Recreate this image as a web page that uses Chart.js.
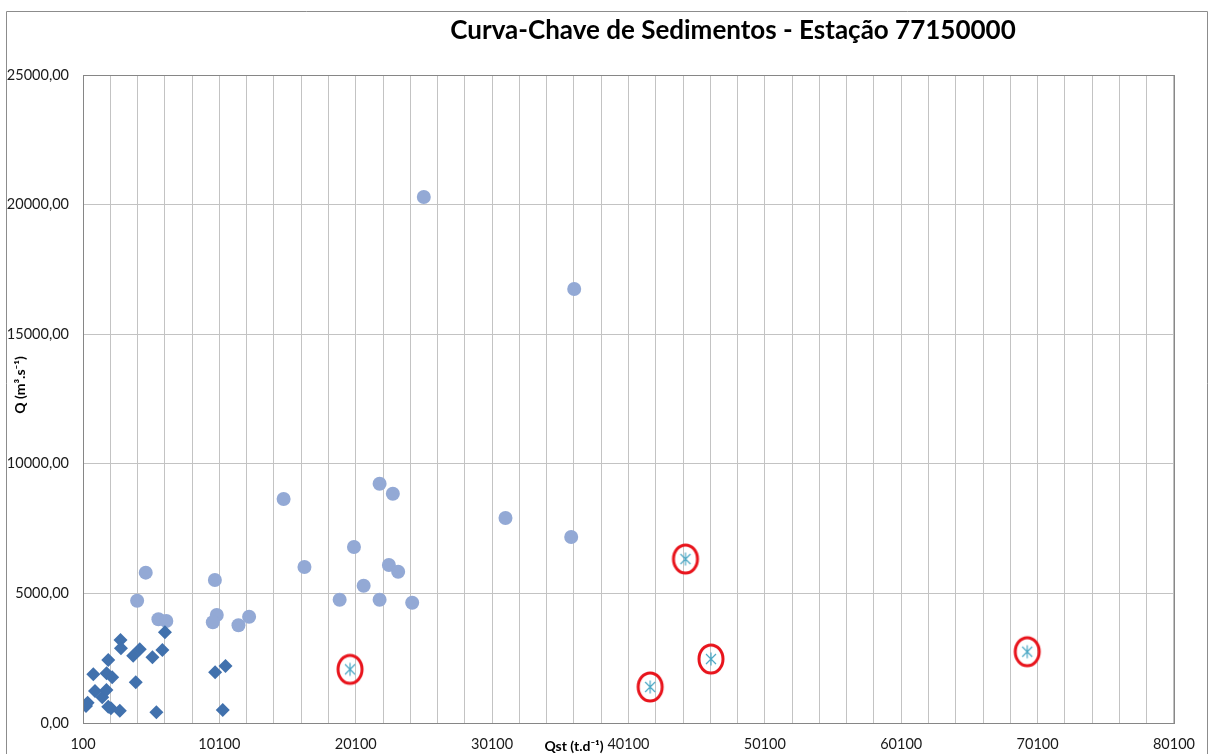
<!DOCTYPE html>
<html>
<head>
<meta charset="utf-8">
<script src="https://cdn.jsdelivr.net/npm/chart.js@4.4.0/dist/chart.umd.min.js"></script>
<style>
  html, body { margin: 0; padding: 0; background: #fff; }
</style>
</head>
<body>
<canvas id="curva" width="1208" height="754"></canvas>
<script>
// ---------- DATA ----------
// serie 1: losangos (Qst baixo)
const qstLosango = [320, 440, 855, 980, 1510, 1820, 1950, 1830, 2240, 1950, 2150, 2800, 2850, 2880,
                    3780, 3970, 4260, 5190, 5480, 5920, 6110, 9790, 10550, 10350];
const qLosango   = [656, 783, 1879, 1234, 991, 1273, 2430, 1917, 1763, 629, 567, 475, 3202, 2880,
                    2596, 1570, 2843, 2534, 413, 2816, 3500, 1956, 2199, 502];

// serie 2: circulos
const qstCirculo = [4700, 4070, 5630, 6210, 9770, 9910, 9620, 11500, 12280, 14810, 21850, 22820,
                    19970, 16340, 22530, 23210, 20680, 18920, 21850, 24240, 25090, 36120, 31080, 35900];
const qCirculo   = [5800, 4719, 4000, 3935, 5517, 4167, 3885, 3769, 4101, 8642, 9232, 8847,
                    6790, 6019, 6096, 5838, 5297, 4757, 4757, 4641, 20293, 16744, 7909, 7176];

// serie 3: asteriscos (destacados em vermelho)
const qstAsterisco = [19680, 44280, 46150, 41690, 69340];
const qAsterisco   = [2071, 6327, 2469, 1389, 2751];

const xMin = 100, xMax = 80100, xStep = 2000, xLabelStep = 10000;
const yMin = 0, yMax = 25000, yStep = 5000;

const titulo = 'Curva-Chave de Sedimentos - Estação 77150000';
const tituloX = 'Qst (t.d⁻¹)';
const tituloY = 'Q (m³.s⁻¹)';

// ---------- HELPERS ----------
function pares(xs, ys) {
    return xs.map((x, i) => ({ x: x, y: ys[i] }));
}

function marcadorAsterisco() {
    const c = document.createElement('canvas');
    c.width = 16; c.height = 16;
    const g = c.getContext('2d');
    g.strokeStyle = '#4aa7c4';
    g.lineWidth = 1.2;
    g.beginPath();
    g.moveTo(8, 1.5); g.lineTo(8, 14.5);
    g.moveTo(3, 3); g.lineTo(13, 13);
    g.moveTo(13, 3); g.lineTo(3, 13);
    g.stroke();
    return c;
}

function marcadorElipse() {
    const c = document.createElement('canvas');
    c.width = 30; c.height = 34;
    const g = c.getContext('2d');
    g.strokeStyle = '#e8141c';
    g.lineWidth = 3;
    g.beginPath();
    g.ellipse(15, 17, 12, 14, 0, 0, Math.PI * 2);
    g.stroke();
    return c;
}

// ---------- PLUGIN: moldura e titulos ----------
const moldura = {
    id: 'moldura',
    afterDraw(chart) {
        const ctx = chart.ctx;
        const a = chart.chartArea;
        ctx.save();
        // moldura externa
        ctx.strokeStyle = '#8c8c8c';
        ctx.lineWidth = 1;
        ctx.beginPath();
        ctx.moveTo(6.5, 760); ctx.lineTo(6.5, 11.5); ctx.lineTo(1207.5, 11.5); ctx.lineTo(1207.5, 760);
        ctx.stroke();
        // borda da area de plotagem
        ctx.strokeStyle = '#868686';
        ctx.strokeRect(a.left + 0.5, a.top + 0.5, a.right - a.left, a.bottom - a.top);

        ctx.fillStyle = '#000';
        ctx.textAlign = 'center';
        ctx.textBaseline = 'middle';
        ctx.font = 'bold 26px Lato';
        ctx.fillText(titulo, 733, 31);

        ctx.font = 'bold 14px Lato';
        ctx.fillText(tituloX, 574, 746);

        ctx.translate(20, 385);
        ctx.rotate(-Math.PI / 2);
        ctx.fillText(tituloY, 0, 0);
        ctx.restore();
    }
};

// ---------- CHART ----------
new Chart(document.getElementById('curva'), {
    type: 'scatter',
    data: {
        datasets: [
            {
                label: 'destaque',
                data: pares(qstAsterisco, qAsterisco),
                pointStyle: marcadorElipse(),
                showLine: false
            },
            {
                label: 'asterisco',
                data: pares(qstAsterisco, qAsterisco),
                pointStyle: marcadorAsterisco(),
                showLine: false
            },
            {
                label: 'losango',
                data: pares(qstLosango, qLosango),
                pointStyle: 'rectRot',
                pointRadius: 7,
                backgroundColor: '#4171ad',
                borderColor: '#4171ad',
                borderWidth: 0
            },
            {
                label: 'circulo',
                data: pares(qstCirculo, qCirculo),
                pointStyle: 'circle',
                pointRadius: 7,
                backgroundColor: '#93a9d5',
                borderColor: '#93a9d5',
                borderWidth: 0
            }
        ]
    },
    options: {
        responsive: false,
        animation: false,
        layout: { padding: { top: 75, right: 30, left: 0, bottom: 0 } },
        plugins: {
            legend: { display: false },
            tooltip: { enabled: false }
        },
        scales: {
            x: {
                type: 'linear',
                min: xMin,
                max: xMax,
                afterFit: s => { s.height = 31; },
                afterBuildTicks: s => {
                    s.ticks = [];
                    for (let v = xMin; v <= xMax; v += xStep) s.ticks.push({ value: v });
                },
                grid: { color: '#c3c3c3', drawTicks: false },
                border: { color: '#868686' },
                ticks: {
                    autoSkip: false,
                    maxRotation: 0,
                    padding: 13,
                    color: '#1a1a1a',
                    font: { family: 'Lato', size: 14.5 },
                    callback: v => ((v - xMin) % xLabelStep === 0 ? String(v) : '')
                }
            },
            y: {
                min: yMin,
                max: yMax,
                afterFit: s => { s.width = 83; },
                grid: { color: '#c3c3c3', drawTicks: false },
                border: { color: '#868686' },
                ticks: {
                    stepSize: yStep,
                    padding: 14,
                    color: '#1a1a1a',
                    font: { family: 'Lato', size: 14.5 },
                    callback: v => v.toFixed(2).replace('.', ',')
                }
            }
        }
    },
    plugins: [moldura]
});
</script>
</body>
</html>
